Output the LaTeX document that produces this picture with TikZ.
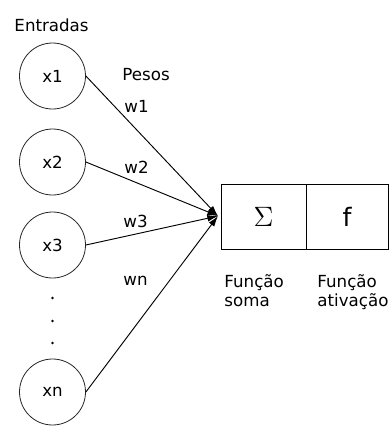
\documentclass[tikz,border=0pt]{standalone}
\usepackage{fontspec}
\setmainfont{DejaVu Sans}
\usetikzlibrary{arrows.meta}

\begin{document}
\begin{tikzpicture}[x=0.75pt, y=-0.75pt, line width=0.7pt,
    every node/.style={font=\fontsize{12.5}{14}\selectfont, inner sep=0pt},
    entrada/.style={draw=black!85, circle, minimum size=49.5pt, line width=0.6pt},
    bloco/.style={draw, rectangle, minimum height=48.75pt},
    peso/.style={-{Latex[length=8pt,width=5pt]}}]
      \useasboundingbox (0,0) rectangle (389,426);

      % entradas
      \node[anchor=west] (tit) at (14,25) {Entradas};
      \node[entrada] (x1) at (52.5,76) {x1};
      \node[entrada] (x2) at (52.5,162) {x2};
      \node[entrada] (x3) at (52.5,245) {x3};
      \node[entrada] (xn) at (52.5,392) {xn};
      \foreach \y in {298,321,343}
        \fill (52.5,\y) circle (1.1pt);

      % somador e ativacao
      \coordinate (j) at (218,216);
      \node[bloco, minimum width=63.75pt] (soma) at (263.5,216.5) {\scalebox{1.75}{$\Sigma$}};
      \node[bloco, minimum width=61.5pt] (ativ) at (347,216.5) {\fontsize{19}{20}\selectfont f};

      \draw[peso] (x1.east) -- (j);
      \draw[peso] (x2.east) -- (j);
      \draw[peso] (x3.east) -- (j);
      \draw[peso] (xn.east) -- (j);

      % pesos
      \node[anchor=west] (pes) at (122,75) {Pesos};
      \node[anchor=west] (w1) at (124,106) {w1};
      \node[anchor=west] (w2) at (124,167) {w2};
      \node[anchor=west] (w3) at (123,221) {w3};
      \node[anchor=west] (wn) at (123,281) {wn};

      \node[anchor=north west, align=left] (lsoma) at (224,274) {Função\\soma};
      \node[anchor=north west, align=left] (lativ) at (317,274) {Função\\ativação};
    \end{tikzpicture}
\end{document}
